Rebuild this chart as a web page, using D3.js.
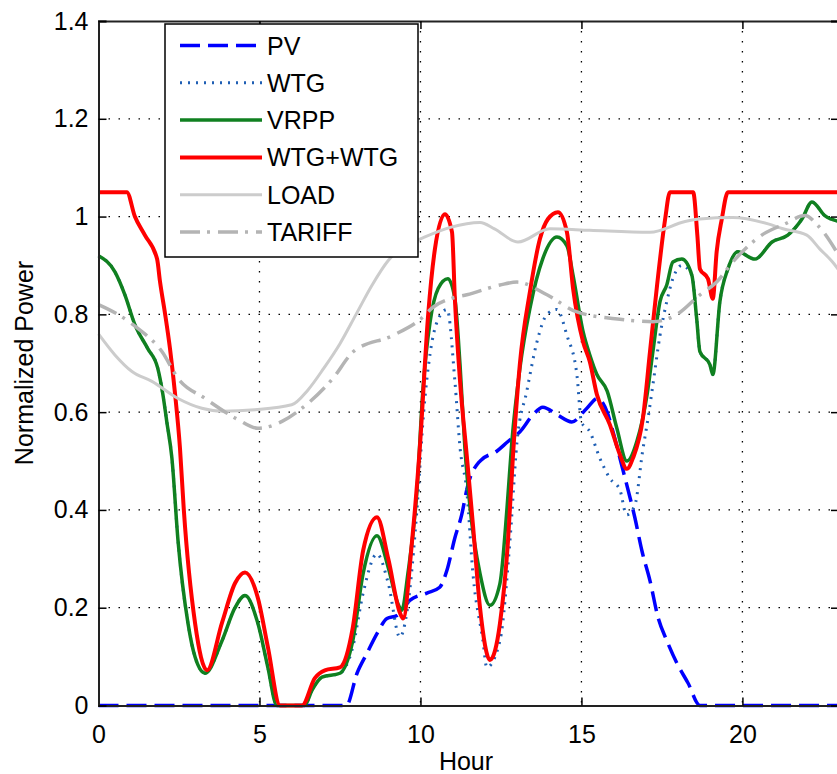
<!DOCTYPE html>
<html>
<head>
<meta charset="utf-8">
<script src="https://cdn.jsdelivr.net/npm/d3@7"></script>
<style>
  body { margin: 0; background: #fff; }
  text { font-family: "Liberation Sans", Arial, sans-serif; fill: #000; }
</style>
</head>
<body>
<div id="chart"></div>
<script>
// ---- data ----
const pvHours  = [0, 7.7, 8.03, 8.34, 8.65, 8.96, 9.27, 9.67, 10.2, 10.6, 10.82, 11.07, 11.28, 11.47, 11.85, 12.37, 12.72, 13.09, 13.5, 13.8, 14.24, 14.7, 15.17, 15.5, 15.8, 15.98, 16.3, 16.51, 16.66, 16.88, 17.13, 17.38, 17.65, 17.97, 18.31, 18.68, 23];
const pvValues = [0, 0, 0.066, 0.107, 0.147, 0.178, 0.184, 0.215, 0.23, 0.242, 0.276, 0.343, 0.39, 0.45, 0.5, 0.52, 0.54, 0.56, 0.595, 0.61, 0.595, 0.58, 0.608, 0.628, 0.6, 0.56, 0.479, 0.425, 0.384, 0.316, 0.255, 0.18, 0.133, 0.086, 0.046, 0, 0];

const wtgHours  = [0, 0.51, 0.82, 1.13, 1.53, 1.84, 2.0, 2.12, 2.28, 2.47, 2.78, 3.0, 3.31, 3.84, 4.24, 4.55, 4.95, 5.26, 5.54, 6.4, 6.63, 6.94, 7.5, 7.9, 8.22, 8.65, 9.0, 9.36, 9.6, 9.89, 10.1, 10.3, 10.55, 10.83, 11.07, 11.23, 11.44, 11.63, 11.94, 12.06, 12.47, 12.78, 13.0, 13.3, 13.62, 13.93, 14.24, 14.55, 14.86, 15.0, 15.26, 15.57, 15.88, 16.2, 16.4, 16.66, 16.9, 17.07, 17.22, 17.44, 17.65, 17.84, 18.12, 18.43, 18.58, 18.68, 18.99, 19.08, 19.3, 19.55, 19.86, 20.39, 20.92, 21.41, 21.85, 22.16, 22.56, 23];
const wtgValues = [0.92, 0.887, 0.84, 0.779, 0.73, 0.69, 0.636, 0.581, 0.506, 0.337, 0.168, 0.099, 0.066, 0.133, 0.2, 0.225, 0.168, 0.078, 0, 0, 0.031, 0.058, 0.066, 0.12, 0.23, 0.31, 0.25, 0.14, 0.2, 0.4, 0.6, 0.72, 0.79, 0.81, 0.663, 0.527, 0.438, 0.27, 0.133, 0.078, 0.133, 0.337, 0.54, 0.642, 0.744, 0.8, 0.81, 0.757, 0.676, 0.58, 0.56, 0.506, 0.465, 0.44, 0.39, 0.41, 0.52, 0.588, 0.656, 0.757, 0.826, 0.873, 0.9, 0.88, 0.791, 0.724, 0.697, 0.677, 0.826, 0.893, 0.928, 0.913, 0.948, 0.962, 0.995, 1.03, 1.002, 0.99];

const vrppHours  = [0, 0.51, 0.82, 1.13, 1.53, 1.84, 2.0, 2.12, 2.28, 2.47, 2.78, 3.0, 3.31, 3.84, 4.24, 4.55, 4.95, 5.26, 5.54, 6.4, 6.63, 6.94, 7.5, 7.9, 8.22, 8.65, 9.0, 9.3, 9.42, 9.61, 9.89, 10.08, 10.3, 10.55, 10.85, 11.07, 11.23, 11.38, 11.54, 11.85, 12.16, 12.47, 12.69, 12.84, 13.09, 13.4, 13.8, 14.24, 14.55, 14.74, 15.05, 15.26, 15.48, 15.8, 16.1, 16.41, 16.72, 17.04, 17.22, 17.44, 17.65, 17.84, 18.12, 18.43, 18.58, 18.68, 18.99, 19.08, 19.3, 19.55, 19.86, 20.39, 20.92, 21.41, 21.85, 22.16, 22.56, 23];
const vrppValues = [0.92, 0.887, 0.84, 0.779, 0.73, 0.69, 0.636, 0.581, 0.506, 0.337, 0.168, 0.099, 0.066, 0.133, 0.2, 0.225, 0.168, 0.078, 0, 0, 0.031, 0.058, 0.066, 0.133, 0.27, 0.347, 0.282, 0.208, 0.195, 0.27, 0.438, 0.649, 0.785, 0.853, 0.873, 0.832, 0.696, 0.527, 0.405, 0.27, 0.205, 0.25, 0.405, 0.54, 0.69, 0.812, 0.914, 0.958, 0.94, 0.88, 0.765, 0.717, 0.677, 0.643, 0.567, 0.5, 0.54, 0.636, 0.724, 0.826, 0.86, 0.907, 0.913, 0.88, 0.791, 0.724, 0.697, 0.677, 0.826, 0.893, 0.928, 0.913, 0.948, 0.962, 0.995, 1.03, 1.002, 0.99];

const sumHours  = [0, 0.88, 1.13, 1.44, 1.82, 1.91, 2.07, 2.22, 2.38, 2.53, 2.65, 3.0, 3.37, 3.84, 4.24, 4.55, 4.95, 5.26, 5.64, 6.32, 6.72, 7.03, 7.5, 7.9, 8.22, 8.65, 9.0, 9.36, 9.46, 9.74, 9.98, 10.24, 10.45, 10.76, 10.98, 11.07, 11.23, 11.44, 11.63, 11.85, 12.16, 12.47, 12.72, 12.87, 13.09, 13.4, 13.71, 13.96, 14.27, 14.55, 14.74, 15.05, 15.26, 15.48, 15.88, 16.19, 16.41, 16.6, 16.91, 17.13, 17.35, 17.6, 17.75, 18.47, 18.6, 18.68, 18.93, 19.08, 19.2, 19.36, 19.55, 23];
const sumValues = [1.05, 1.05, 1.0, 0.962, 0.913, 0.867, 0.8, 0.73, 0.636, 0.527, 0.4, 0.168, 0.072, 0.17, 0.25, 0.272, 0.22, 0.12, 0, 0, 0.056, 0.072, 0.078, 0.16, 0.317, 0.385, 0.3, 0.19, 0.178, 0.337, 0.527, 0.8, 0.934, 1.005, 0.968, 0.83, 0.663, 0.51, 0.37, 0.2, 0.093, 0.168, 0.337, 0.507, 0.7, 0.846, 0.954, 0.995, 1.009, 0.968, 0.853, 0.744, 0.703, 0.636, 0.575, 0.514, 0.484, 0.506, 0.588, 0.724, 0.86, 0.995, 1.05, 1.05, 0.962, 0.893, 0.873, 0.832, 0.928, 0.995, 1.05, 1.05];

const loadHours  = [0, 0.51, 1.04, 1.66, 2.47, 3.21, 3.84, 4.86, 6.0, 6.5, 7.0, 7.5, 8.0, 8.5, 9.0, 9.5, 9.98, 10.93, 11.85, 12.3, 13.03, 14.02, 15.26, 17.13, 18.22, 18.68, 19.7, 20.8, 21.26, 22.0, 22.4, 22.8, 23];
const loadValues = [0.76, 0.717, 0.683, 0.663, 0.628, 0.608, 0.602, 0.605, 0.615, 0.645, 0.69, 0.74, 0.8, 0.86, 0.91, 0.94, 0.954, 0.978, 0.988, 0.975, 0.948, 0.975, 0.972, 0.968, 0.99, 0.995, 0.998, 0.985, 0.975, 0.962, 0.934, 0.907, 0.89];

const tariffHours  = [0, 0.6, 1.23, 1.97, 2.47, 3.31, 4.33, 4.95, 5.7, 6.32, 7.28, 7.92, 9.15, 10.0, 10.4, 10.93, 11.44, 12.47, 13.0, 13.93, 14.86, 16.2, 17.22, 17.97, 18.68, 19.2, 19.7, 20.6, 21.32, 21.94, 22.34, 23];
const tariffValues = [0.82, 0.8, 0.771, 0.724, 0.669, 0.628, 0.585, 0.567, 0.581, 0.608, 0.669, 0.724, 0.757, 0.79, 0.815, 0.832, 0.84, 0.86, 0.866, 0.84, 0.805, 0.79, 0.785, 0.8, 0.84, 0.866, 0.907, 0.962, 0.985, 1.002, 0.982, 0.92];

const xTicks = [0, 5, 10, 15, 20];
const yTicks = [0, 0.2, 0.4, 0.6, 0.8, 1, 1.2, 1.4];

const series = [
  { name: "PV",      hours: pvHours,     values: pvValues,     color: "#0000ff", width: 3.5, dash: "20,8" },
  { name: "WTG",     hours: wtgHours,    values: wtgValues,    color: "#1f5fb4", width: 3,   dash: "2,6" },
  { name: "VRPP",    hours: vrppHours,   values: vrppValues,   color: "#108020", width: 3.5, dash: null },
  { name: "WTG+WTG", hours: sumHours,    values: sumValues,    color: "#ff0000", width: 4,   dash: null },
  { name: "LOAD",    hours: loadHours,   values: loadValues,   color: "#cccccc", width: 3,   dash: null },
  { name: "TARIFF",  hours: tariffHours, values: tariffValues, color: "#b4b4b4", width: 3.5, dash: "20,7,3,8" }
];

// ---- layout ----
const W = 837, H = 774;
const margin = { top: 21, left: 98.5 };
const plotBottom = 705.5, plotRight = 839;

const svg = d3.select("#chart")
  .append("svg")
    .attr("width", W)
    .attr("height", H);

const x = d3.scaleLinear().domain([0, 23]).range([margin.left, plotRight]);
const y = d3.scaleLinear().domain([0, 1.4]).range([plotBottom, margin.top]);

// grid
svg.append("g")
  .selectAll("line")
  .data(xTicks.filter(d => d > 0))
  .enter().append("line")
    .attr("x1", d => x(d)).attr("x2", d => x(d))
    .attr("y1", margin.top).attr("y2", plotBottom)
    .attr("stroke", "#000").attr("stroke-width", 1.3)
    .attr("stroke-dasharray", "1.5,8.5");

svg.append("g")
  .selectAll("line")
  .data(yTicks.filter(d => d > 0 && d < 1.4))
  .enter().append("line")
    .attr("x1", margin.left).attr("x2", plotRight)
    .attr("y1", d => y(d)).attr("y2", d => y(d))
    .attr("stroke", "#000").attr("stroke-width", 1.3)
    .attr("stroke-dasharray", "1.5,8.5");

// lines
const line = d3.line()
  .x(d => x(d[0]))
  .y(d => y(d[1]))
  .curve(d3.curveMonotoneX);

series.forEach(s => {
  const pts = s.hours.map((h, i) => [h, s.values[i]]);
  svg.append("path")
    .datum(pts)
    .attr("d", line)
    .attr("fill", "none")
    .attr("stroke", s.color)
    .attr("stroke-width", s.width)
    .attr("stroke-linejoin", "round")
    .attr("stroke-dasharray", s.dash);
});

// axes (matlab style, ticks inward)
const bottomAxis = d3.axisBottom(x).tickValues(xTicks).tickSize(-8).tickPadding(20).tickFormat(d => d);
svg.append("g")
  .attr("transform", `translate(0,${plotBottom})`)
  .call(bottomAxis)
  .call(g => g.select(".domain").attr("stroke-width", 2).attr("stroke", "#222"))
  .call(g => g.selectAll(".tick line").attr("stroke-width", 1.5))
  .call(g => g.selectAll("text").attr("font-size", 25).attr("fill", "#000"));

const topAxis = d3.axisTop(x).tickValues(xTicks).tickSize(-8).tickFormat("");
svg.append("g")
  .attr("transform", `translate(0,${margin.top})`)
  .call(topAxis)
  .call(g => g.select(".domain").attr("stroke-width", 2).attr("stroke", "#222"))
  .call(g => g.selectAll(".tick line").attr("stroke-width", 1.5));

const leftAxis = d3.axisLeft(y).tickValues(yTicks).tickSize(-8).tickPadding(10).tickFormat(d => d);
svg.append("g")
  .attr("transform", `translate(${margin.left},0)`)
  .call(leftAxis)
  .call(g => g.select(".domain").attr("stroke-width", 2).attr("stroke", "#222"))
  .call(g => g.selectAll(".tick line").attr("stroke-width", 1.5))
  .call(g => g.selectAll("text").attr("font-size", 25).attr("fill", "#000"));

const rightAxis = d3.axisRight(y).tickValues(yTicks).tickSize(-8).tickFormat("");
svg.append("g")
  .attr("transform", `translate(${plotRight},0)`)
  .call(rightAxis)
  .call(g => g.select(".domain").attr("stroke-width", 2).attr("stroke", "#222"))
  .call(g => g.selectAll(".tick line").attr("stroke-width", 1.5));

// axis labels
svg.append("text")
  .attr("x", 466)
  .attr("y", 770)
  .attr("text-anchor", "middle")
  .attr("font-size", 25)
  .text("Hour");

svg.append("text")
  .attr("transform", "rotate(-90)")
  .attr("x", -363)
  .attr("y", 33)
  .attr("text-anchor", "middle")
  .attr("font-size", 25)
  .text("Normalized Power");

// legend
const legend = svg.append("g");
legend.append("rect")
  .attr("x", 165).attr("y", 24)
  .attr("width", 253).attr("height", 233)
  .attr("fill", "#fff")
  .attr("stroke", "#000").attr("stroke-width", 1.5);

series.forEach((s, i) => {
  const ly = 45.5 + i * 37.3;
  legend.append("line")
    .attr("x1", 180).attr("x2", 262)
    .attr("y1", ly).attr("y2", ly)
    .attr("stroke", s.color)
    .attr("stroke-width", s.width)
    .attr("stroke-dasharray", s.dash);
  legend.append("text")
    .attr("x", 267)
    .attr("y", ly + 9)
    .attr("font-size", 25)
    .text(s.name);
});
</script>
</body>
</html>
